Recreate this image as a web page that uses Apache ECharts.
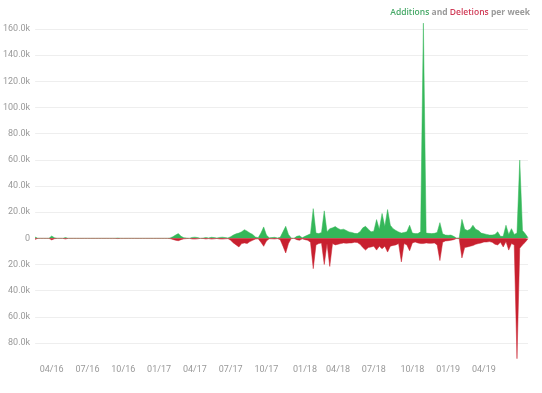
<!DOCTYPE html>
<html>
<head>
<meta charset="utf-8">
<script src="https://cdn.jsdelivr.net/npm/echarts@6/dist/echarts.min.js"></script>
<style>html,body{margin:0;padding:0;background:#fff}#c{width:542px;height:393px}</style>
</head>
<body>
<div id="c"></div>
<script>
// weekly categories starting Sunday 2016-02-21
var startDate = Date.UTC(2016, 1, 21);
var weekCount = 180;
var weeks = [];
for (var k = 0; k < weekCount; k++) {
  var d = new Date(startDate + k * 7 * 86400000);
  weeks.push(d.toISOString().slice(0, 10));
}
// x tick labels shown (first week of each quarter month)
var tickLabels = ['04/16','07/16','10/16','01/17','04/17','07/17','10/17','01/18','04/18','07/18','10/18','01/19','04/19'];

var additions = [
  1000,0,0,0,0,0,1800,500,0,0,
  0,600,0,0,0,0,0,0,0,0,
  0,0,0,0,0,0,0,0,0,0,
  300,0,0,0,0,0,0,0,0,0,
  0,0,0,0,0,0,0,0,0,300,
  1200,2500,3600,1500,500,300,0,700,900,600,
  0,200,700,300,800,600,200,700,900,600,
  300,1200,2500,3500,4000,5000,6600,5500,4000,3000,
  1000,500,4000,8700,2500,400,600,800,300,800,
  5000,9200,3000,300,0,1500,2000,500,1500,2500,
  3500,22700,4000,3600,4500,21000,5000,7400,8000,9000,
  7500,6600,7000,6000,4900,4500,3800,3600,5000,8000,
  9200,7000,5000,5500,14300,7000,19000,9000,22000,10000,
  7400,6000,4900,4000,4500,5000,10000,4000,3600,3600,
  5000,164500,4000,3800,3600,3800,4500,12000,3500,2500,
  2300,2500,1500,300,200,14500,7000,6000,7000,10000,
  7000,6000,4000,3500,3000,2500,2500,3000,5000,1500,
  1500,10000,3000,7400,3000,4000,59800,6000,3500,500
];
var deletions = [
  -800,0,0,0,0,0,-1200,-300,0,0,
  0,-500,0,0,0,0,0,0,0,0,
  0,0,0,0,0,0,0,0,0,0,
  -200,0,0,0,0,0,0,0,0,0,
  0,0,0,0,0,0,0,0,0,-200,
  -800,-1500,-1800,-1000,-400,-200,0,-500,-600,-400,
  0,-100,-500,-200,-600,-400,-100,-500,-600,-400,
  -200,-1500,-3500,-5000,-6600,-4000,-3500,-4000,-2500,-1500,
  -600,-300,-3000,-6100,-2000,-300,-400,-500,-200,-1000,
  -6000,-11200,-4000,-200,0,-1000,-1500,-400,-1000,-1500,
  -3000,-23200,-5000,-4000,-3500,-20000,-4000,-21500,-4000,-5000,
  -4500,-4000,-3500,-3800,-3600,-3500,-3000,-3200,-4500,-7000,
  -9000,-7000,-6600,-6000,-9000,-6000,-8000,-6000,-10500,-6000,
  -5400,-5000,-4000,-18000,-4000,-5000,-9500,-3500,-2800,-3500,
  -4000,-4000,-3500,-3800,-3800,-3500,-5000,-17000,-3000,-2000,
  -1800,-1500,-1000,-200,-200,-15000,-7000,-6600,-6000,-5500,
  -4500,-4000,-3500,-2800,-2800,-2500,-3000,-4500,-5000,-3000,
  -6600,-2500,-9000,-4000,-5000,-92000,-7600,-5000,-3000,-300
];
var yTicks = { min: -80000, max: 160000, step: 20000 };

function fmtWeek(val) { return val.slice(5, 7) + '/' + val.slice(2, 4); }

var chart = echarts.init(document.getElementById('c'), null, { renderer: 'canvas' });
chart.setOption({
  animation: false,
  backgroundColor: '#fff',
  title: {
    text: '{a|Additions} {t|and} {d|Deletions} {t|per week}',
    right: 7, top: 3,
    textStyle: {
      fontSize: 8,
      rich: {
        a: { color: '#45a866', fontWeight: 600, fontSize: 8.5, fontFamily: 'Open Sans' },
        d: { color: '#d03a56', fontWeight: 600, fontSize: 8.5, fontFamily: 'Open Sans' },
        t: { color: '#9a9a9a', fontSize: 8.5, fontFamily: 'Open Sans' }
      }
    }
  },
  grid: { left: 31, right: 14, top: 29, bottom: 50 },
  xAxis: {
    type: 'category',
    data: weeks,
    boundaryGap: false,
    axisLine: { show: false, onZero: false },
    axisTick: { show: false },
    splitLine: { show: false },
    axisLabel: {
      margin: 22,
      color: '#999',
      fontSize: 9,
      fontFamily: 'Roboto',
      interval: function (idx, val) {
        var m = +val.slice(5, 7), day = +val.slice(8, 10);
        return (m === 1 || m === 4 || m === 7 || m === 10) && day <= 7 && tickLabels.indexOf(fmtWeek(val)) >= 0;
      },
      formatter: fmtWeek
    }
  },
  yAxis: {
    type: 'value',
    min: yTicks.min, max: yTicks.max, interval: yTicks.step,
    axisLine: { show: false },
    axisTick: { show: false },
    splitLine: { lineStyle: { color: '#eeeeee', width: 1 } },
    axisLabel: {
      margin: 5,
      color: '#999',
      fontSize: 9,
      fontFamily: 'Roboto',
      formatter: function (v) { return v === 0 ? '0' : (Math.abs(v) / 1000).toFixed(1) + 'k'; }
    }
  },
  series: [
    {
      name: 'Additions', type: 'line', data: additions, symbol: 'none', clip: false,
      lineStyle: { width: 0.5, color: '#34b759' },
      areaStyle: { color: '#34b759', opacity: 1 }
    },
    {
      name: 'Deletions', type: 'line', data: deletions, symbol: 'none', clip: false,
      lineStyle: { width: 0.5, color: '#c8202f' },
      areaStyle: { color: '#c8202f', opacity: 1 }
    }
  ]
});
</script>
</body>
</html>
